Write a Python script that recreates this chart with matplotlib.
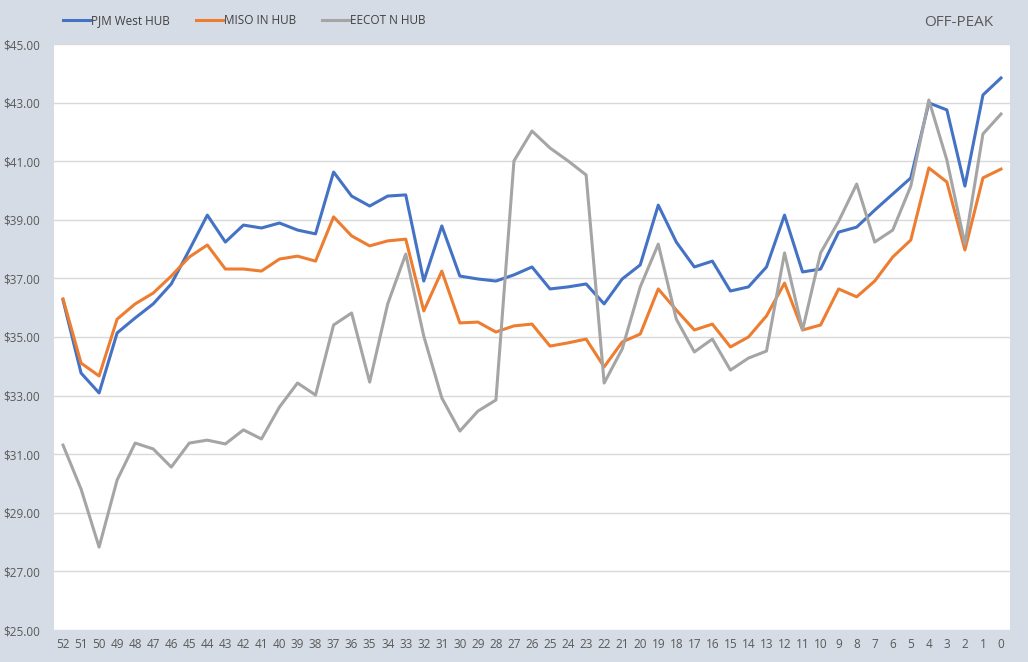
import matplotlib
matplotlib.use("Agg")
import matplotlib.pyplot as plt
import matplotlib.ticker as tick

weeks = list(range(52, -1, -1))

pjm_west = [36.26, 33.77, 33.09, 35.14, 35.65, 36.13, 36.81, 37.97, 39.16, 38.24,
            38.82, 38.72, 38.89, 38.65, 38.52, 40.63, 39.81, 39.47, 39.81, 39.85,
            36.91, 38.79, 37.08, 36.98, 36.91, 37.12, 37.39, 36.64, 36.71, 36.81,
            36.13, 36.98, 37.46, 39.50, 38.24, 37.39, 37.59, 36.57, 36.71, 37.39,
            39.16, 37.22, 37.32, 38.58, 38.75, 39.33, 39.88, 40.43, 42.99, 42.75,
            40.15, 43.26, 43.84]

miso_in = [36.30, 34.11, 33.67, 35.61, 36.13, 36.50, 37.08, 37.73, 38.14, 37.32,
           37.32, 37.25, 37.66, 37.76, 37.59, 39.10, 38.45, 38.11, 38.28, 38.34,
           35.89, 37.25, 35.48, 35.51, 35.17, 35.38, 35.44, 34.69, 34.80, 34.93,
           33.98, 34.83, 35.10, 36.64, 35.92, 35.24, 35.44, 34.66, 35.00, 35.72,
           36.84, 35.24, 35.41, 36.64, 36.37, 36.91, 37.73, 38.31, 40.77, 40.29,
           37.97, 40.43, 40.73]

eecot_n = [31.31, 29.81, 27.83, 30.12, 31.38, 31.18, 30.56, 31.38, 31.48, 31.35,
           31.83, 31.52, 32.61, 33.43, 33.02, 35.41, 35.82, 33.46, 36.13, 37.83,
           35.03, 32.92, 31.79, 32.47, 32.85, 41.01, 42.03, 41.45, 41.01, 40.53,
           33.43, 34.59, 36.71, 38.17, 35.61, 34.49, 34.93, 33.87, 34.28, 34.52,
           37.87, 35.24, 37.87, 38.95, 40.22, 38.24, 38.65, 40.15, 43.09, 41.04,
           38.17, 41.93, 42.61]

plt.rcParams['font.family'] = ['Open Sans', 'DejaVu Sans']

fig = plt.figure(figsize=(10.28, 6.62), dpi=100)
fig.patch.set_facecolor('#D6DCE5')
ax = fig.add_axes([54/1028, 32/662, 956/1028, 586/662])
ax.set_facecolor('white')

x = range(len(weeks))
ax.plot(x, pjm_west, color='#4472C4', lw=2.2, label='PJM West HUB')
ax.plot(x, miso_in, color='#ED7D31', lw=2.2, label='MISO IN HUB')
ax.plot(x, eecot_n, color='#A5A5A5', lw=2.2, label='EECOT N HUB')

ax.set_xlim(-0.5, len(weeks) - 0.5)
ax.set_ylim(25, 45)
ax.set_yticks(range(25, 46, 2))
ax.yaxis.set_major_formatter(tick.FuncFormatter(lambda v, p: f"${v:.2f}"))
ax.set_xticks(list(x))
ax.set_xticklabels([str(w) for w in weeks])
ax.grid(axis='y', color='#D9D9D9', lw=1)
ax.set_axisbelow(True)
for s in ax.spines.values():
    s.set_visible(False)
ax.tick_params(axis='both', length=0, labelsize=8.5, colors='#595959')
ax.tick_params(axis='y', pad=10)
ax.tick_params(axis='x', pad=6)

ax.legend(loc='center left', bbox_to_anchor=(52/1028, 1 - 21/662),
          bbox_transform=fig.transFigure, ncol=3, frameon=False,
          fontsize=8.5, handlelength=2.3, handletextpad=0.1, columnspacing=2.2,
          labelcolor='#404040')
fig.text(993/1028, 1 - 22/662, 'OFF-PEAK', ha='right', va='center',
         fontsize=11, color='#595959')

fig.savefig('out.png', dpi=100, facecolor=fig.get_facecolor())
